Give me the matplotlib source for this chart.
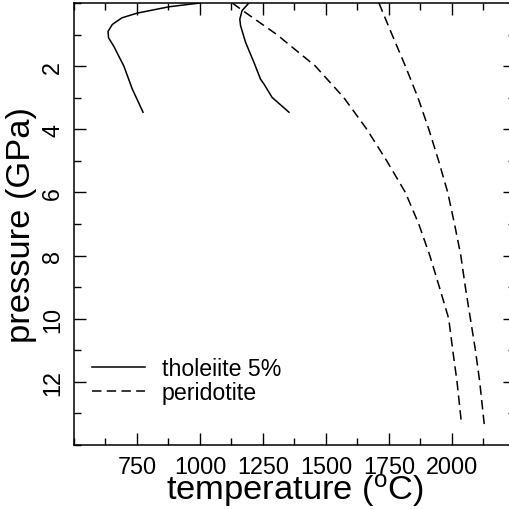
import matplotlib
matplotlib.use("Agg")
import matplotlib.pyplot as plt
from matplotlib.ticker import MultipleLocator

plt.rcParams['font.family'] = ['Liberation Sans', 'DejaVu Sans']
plt.rcParams['lines.scale_dashes'] = False

# tholeiite 5% curves (temperature in C, pressure in GPa)
thol_a_T = [1000, 877, 751, 690, 652, 635, 637, 660, 680, 698, 731, 774]
thol_a_P = [0.0, 0.12, 0.32, 0.47, 0.68, 0.90, 1.10, 1.40, 1.72, 2.00, 2.72, 3.46]
thol_b_T = [1194, 1167, 1158, 1161, 1181, 1214, 1240, 1254, 1286, 1353]
thol_b_P = [0.0, 0.24, 0.51, 0.72, 1.25, 1.88, 2.41, 2.57, 2.99, 3.46]

# peridotite curves
per_a_T = [1128, 1180, 1305, 1458, 1571, 1662, 1741, 1815, 1868, 1912, 1950, 1987, 2003, 2020, 2038]
per_a_P = [0.0, 0.3, 1, 2, 3, 4, 5, 6, 7, 8, 9, 10, 11, 12, 13.35]
per_b_T = [1710, 1762, 1815, 1865, 1908, 1947, 1983, 2010, 2035, 2053, 2073, 2093, 2110, 2128]
per_b_P = [0, 1, 2, 3, 4, 5, 6, 7, 8, 9, 10, 11, 12, 13.35]

fig = plt.figure(figsize=(5.1, 5.1), dpi=100)
ax = fig.add_axes([74/510, 64/510, 441/510, 442/510])

lw = 1.1
dash = (6.8, 3.8)
ax.plot(thol_a_T, thol_a_P, color='k', lw=lw, label='tholeiite 5%')
ax.plot(thol_b_T, thol_b_P, color='k', lw=lw)
ax.plot(per_a_T, per_a_P, color='k', lw=lw, ls='--', dashes=dash, label='peridotite')
ax.plot(per_b_T, per_b_P, color='k', lw=lw, ls='--', dashes=dash)

ax.set_xlim(500, 2250)
ax.set_ylim(14, 0)

ax.xaxis.set_major_locator(MultipleLocator(250))
ax.xaxis.set_minor_locator(MultipleLocator(125))
ax.yaxis.set_major_locator(MultipleLocator(2))
ax.yaxis.set_minor_locator(MultipleLocator(1))
ax.set_xticks([750, 1000, 1250, 1500, 1750, 2000])
ax.set_yticks([2, 4, 6, 8, 10, 12])

ax.tick_params(which='both', direction='in', top=True, right=True, width=1.0)
ax.tick_params(which='major', length=8.6, pad=7, labelsize=16.8)
ax.tick_params(which='minor', length=4.7)
ax.tick_params(axis='y', labelrotation=90)
for t in ax.get_yticklabels():
    t.set_va('center')
for s in ax.spines.values():
    s.set_linewidth(1.1)

ax.set_xlabel(r'temperature ($\mathregular{^o}$C)', fontsize=24.8, labelpad=-5)
ax.set_ylabel('pressure (GPa)', fontsize=24.8, labelpad=3)

ax.legend(loc='center left', bbox_to_anchor=(0.0408, 0.1455), frameon=False,
          fontsize=16.7, handlelength=2.3, handletextpad=0.72, labelspacing=0.02,
          borderpad=0, borderaxespad=0)

fig.savefig('out.png', dpi=100)
